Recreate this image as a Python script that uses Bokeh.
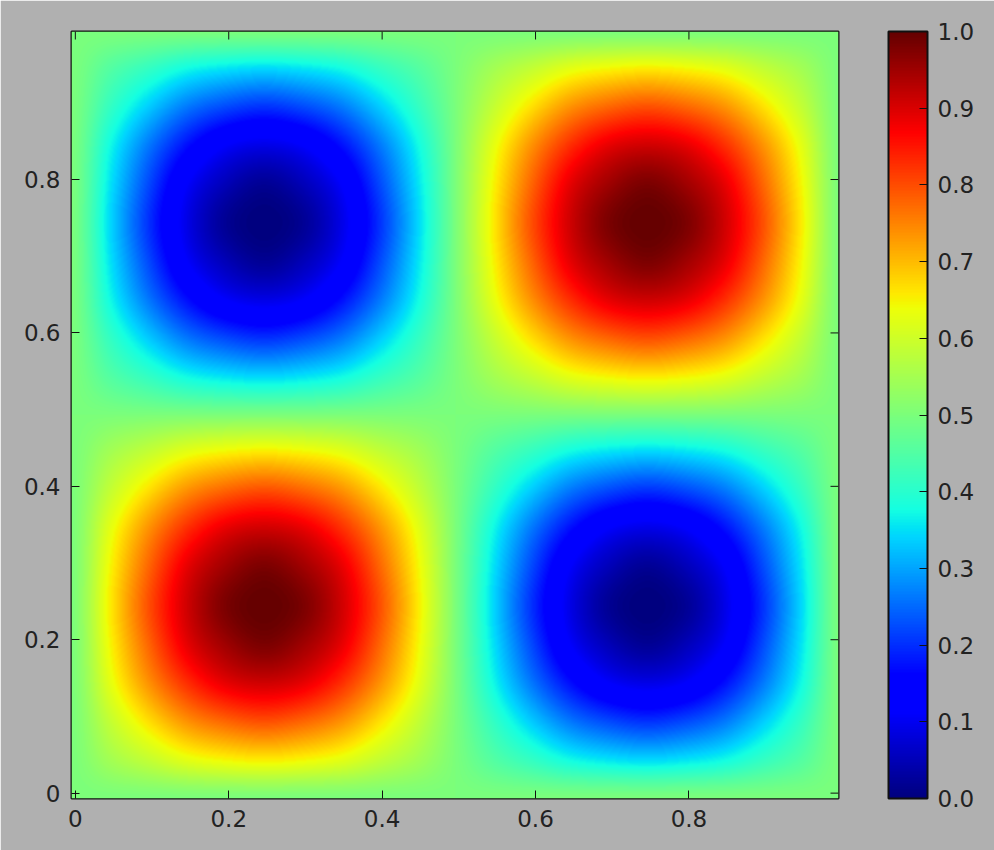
from bokeh.embed import file_html
from bokeh.resources import INLINE
from bokeh.plotting import figure
from bokeh.models import (LinearColorMapper, ColorBar, FixedTicker,
                          PrintfTickFormatter, Range1d)
import numpy as np

# Values on a 0.05 step grid (rows: y = 0 ... 1, columns: x = 0 ... 1)
grid_x = [i / 20 for i in range(21)]
grid_y = [i / 20 for i in range(21)]
row_00 = [.50]*21
row_01 = [.50,.55,.59,.63,.65,.66,.65,.63,.59,.55,.50,.45,.41,.37,.35,.34,.35,.37,.41,.45,.50]
row_02 = [.50,.59,.67,.74,.78,.80,.78,.74,.67,.59,.50,.41,.33,.26,.22,.20,.22,.26,.33,.41,.50]
row_03 = [.50,.63,.74,.83,.89,.91,.89,.83,.74,.63,.50,.37,.26,.17,.11,.09,.11,.17,.26,.37,.50]
row_04 = [.50,.65,.78,.89,.95,.98,.95,.89,.78,.65,.50,.35,.22,.11,.05,.02,.05,.11,.22,.35,.50]
row_05 = [.50,.66,.80,.91,.98,1.0,.98,.91,.80,.66,.50,.34,.20,.09,.02,.00,.02,.09,.20,.34,.50]
row_06 = [.50,.65,.78,.89,.95,.98,.95,.89,.78,.65,.50,.35,.22,.11,.05,.02,.05,.11,.22,.35,.50]
row_07 = [.50,.63,.74,.83,.89,.91,.89,.83,.74,.63,.50,.37,.26,.17,.11,.09,.11,.17,.26,.37,.50]
row_08 = [.50,.59,.67,.74,.78,.80,.78,.74,.67,.59,.50,.41,.33,.26,.22,.20,.22,.26,.33,.41,.50]
row_09 = [.50,.55,.59,.63,.65,.66,.65,.63,.59,.55,.50,.45,.41,.37,.35,.34,.35,.37,.41,.45,.50]
row_10 = [.50]*21
row_11 = [.50,.45,.41,.37,.35,.34,.35,.37,.41,.45,.50,.55,.59,.63,.65,.66,.65,.63,.59,.55,.50]
row_12 = [.50,.41,.33,.26,.22,.20,.22,.26,.33,.41,.50,.59,.67,.74,.78,.80,.78,.74,.67,.59,.50]
row_13 = [.50,.37,.26,.17,.11,.09,.11,.17,.26,.37,.50,.63,.74,.83,.89,.91,.89,.83,.74,.63,.50]
row_14 = [.50,.35,.22,.11,.05,.02,.05,.11,.22,.35,.50,.65,.78,.89,.95,.98,.95,.89,.78,.65,.50]
row_15 = [.50,.34,.20,.09,.02,.00,.02,.09,.20,.34,.50,.66,.80,.91,.98,1.0,.98,.91,.80,.66,.50]
row_16 = [.50,.35,.22,.11,.05,.02,.05,.11,.22,.35,.50,.65,.78,.89,.95,.98,.95,.89,.78,.65,.50]
row_17 = [.50,.37,.26,.17,.11,.09,.11,.17,.26,.37,.50,.63,.74,.83,.89,.91,.89,.83,.74,.63,.50]
row_18 = [.50,.41,.33,.26,.22,.20,.22,.26,.33,.41,.50,.59,.67,.74,.78,.80,.78,.74,.67,.59,.50]
row_19 = [.50,.45,.41,.37,.35,.34,.35,.37,.41,.45,.50,.55,.59,.63,.65,.66,.65,.63,.59,.55,.50]
row_20 = [.50]*21
rows = [row_00,row_01,row_02,row_03,row_04,row_05,row_06,row_07,row_08,row_09,row_10,
        row_11,row_12,row_13,row_14,row_15,row_16,row_17,row_18,row_19,row_20]
x_ticks = [0, 0.2, 0.4, 0.6, 0.8]
y_ticks = [0, 0.2, 0.4, 0.6, 0.8]
x_tick_labels = ["0", "0.2", "0.4", "0.6", "0.8"]
y_tick_labels = ["0", "0.2", "0.4", "0.6", "0.8"]
bar_ticks = [0.0, 0.1, 0.2, 0.3, 0.4, 0.5, 0.6, 0.7, 0.8, 0.9, 1.0]

X0, X1 = -0.005, 0.995
Y0, Y1 = -0.007, 0.993
SHIFT = 0.004
BG = "#b0b0b0"
FONT = "DejaVu Sans"
FS = "23px"
INK = "#222222"
LINE = "#111111"

# a "jet" colour ramp, anchors
levels = np.linspace(0, 1, 256)
red = np.interp(levels, [0, .35, .66, .87, 1], [0, 0, 1, 1, .4])
green = np.interp(levels, [0, .16, .375, .64, .87, 1], [0, 0, 1, 1, 0, 0])
blue = np.interp(levels, [0, .11, .34, .65, 1], [.5, 1, 1, 0, 0])
palette = ["#%02x%02x%02x" % (int(r * 255), int(g * 255), int(b * 255))
           for r, g, b in zip(red, green, blue)]
mapper = LinearColorMapper(palette=palette, low=0, high=1)


def smooth(values, coords, out):
    """Catmull-Rom resampling of an image along its first axis (display only)."""
    step = coords[1] - coords[0]
    t = np.clip((out - coords[0]) / step, 0, len(coords) - 1 - 1e-9)
    i = t.astype(int)
    f = (t - i)[:, None]
    n = len(coords) - 1
    p0, p1 = values[np.clip(i - 1, 0, n)], values[i]
    p2, p3 = values[np.clip(i + 1, 0, n)], values[np.clip(i + 2, 0, n)]
    return 0.5 * (2 * p1 + (p2 - p0) * f + (2 * p0 - 5 * p1 + 4 * p2 - p3) * f ** 2
                  + (3 * p1 - p0 - 3 * p2 + p3) * f ** 3)


z = np.array(rows, dtype=float)
out = np.linspace(X0 + SHIFT, X1 + SHIFT, 767)
img = smooth(z, np.array(grid_y), out)
img = smooth(img.T, np.array(grid_x), out).T

p = figure(frame_width=767, frame_height=767, x_range=Range1d(X0, X1), y_range=Range1d(Y0, Y1),
           toolbar_location=None, output_backend="svg",
           min_border_left=71, min_border_top=31, min_border_bottom=52, min_border_right=0,
           background_fill_color=BG, border_fill_color=BG,
           outline_line_color=LINE, outline_line_width=2)
p.image(image=[img], x=X0, y=Y0, dw=X1 - X0, dh=Y1 - Y0, color_mapper=mapper)
p.grid.visible = False

for ax, ticks, labels in ((p.xaxis[0], x_ticks, x_tick_labels), (p.yaxis[0], y_ticks, y_tick_labels)):
    ax.ticker = FixedTicker(ticks=ticks)
    ax.major_label_overrides = dict(zip(ticks, labels))
    ax.axis_line_color = None
    ax.major_tick_in = 8
    ax.major_tick_out = 0
    ax.minor_tick_line_color = None
    ax.major_tick_line_color = LINE
    ax.major_label_text_font = FONT
    ax.major_label_text_font_size = FS
    ax.major_label_text_color = INK
    ax.major_label_standoff = 11

# inward ticks on the top and right edges of the frame
p.ray(x=x_ticks, y=[Y1] * len(x_ticks), length=8, length_units="screen",
      angle=-np.pi / 2, line_color=LINE, line_width=1)
p.ray(x=[X1] * len(y_ticks), y=y_ticks, length=8, length_units="screen",
      angle=np.pi, line_color=LINE, line_width=1)

cb = ColorBar(color_mapper=mapper, ticker=FixedTicker(ticks=bar_ticks),
              formatter=PrintfTickFormatter(format="%.1f"),
              width=39, height=767, padding=50, margin=0, location=(0, -50),
              background_fill_color=BG, background_fill_alpha=0,
              bar_line_color=LINE, bar_line_width=2,
              major_tick_in=8, major_tick_line_color=LINE, minor_tick_line_color=None,
              major_label_text_font=FONT, major_label_text_font_size=FS,
              major_label_text_color=INK, label_standoff=10)
p.add_layout(cb, "right")

open("out.html", "w").write(file_html(p, INLINE))
